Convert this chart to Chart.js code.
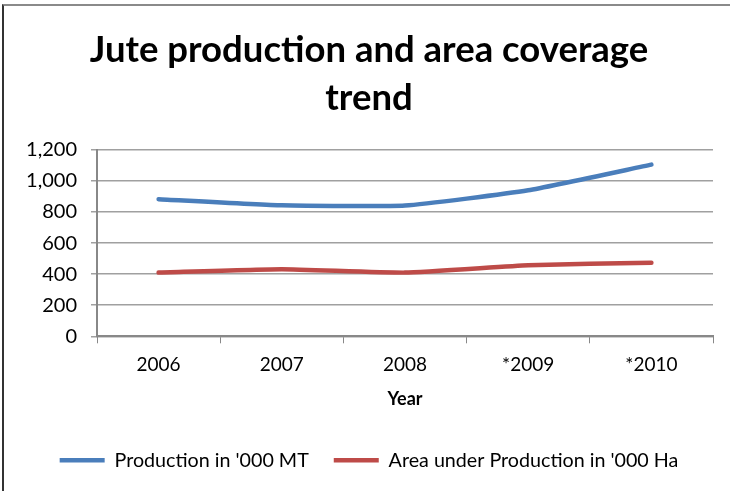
<!DOCTYPE html>
<html>
<head>
<meta charset="utf-8">
<script src="https://cdn.jsdelivr.net/npm/chart.js@4/dist/chart.umd.min.js"></script>
<style>
  body { margin: 0; background: #fff; }
  #wrap { position: relative; width: 730px; height: 491px; overflow: hidden; }
  #frame { position: absolute; left: 2px; top: 4px; width: 800px; height: 600px;
           border-top: 2px solid #8a8a8a; border-left: 2px solid #333; pointer-events: none; }
  canvas { position: absolute; left: 0; top: 0; }
</style>
</head>
<body>
<div id="wrap">
  <canvas id="jute" width="730" height="491"></canvas>
  <div id="frame"></div>
</div>
<script>
const years = ["2006", "2007", "2008", "*2009", "*2010"];
const production = [883, 843, 842, 940, 1105];
const area = [410, 432, 410, 457, 474];
const yTicks = [0, 200, 400, 600, 800, 1000, 1200];

Chart.defaults.font.family = "Lato";
Chart.defaults.color = "#000";

const config = {
  type: "line",
  data: {
    labels: years,
    datasets: [
      {
        label: "Production in '000 MT",
        data: production,
        borderColor: "#4a7ebb",
        backgroundColor: "#4a7ebb",
        borderWidth: 4.5,
        borderCapStyle: "round",
        pointRadius: 0,
        tension: 0.15,
      },
      {
        label: "Area under Production in '000 Ha",
        data: area,
        borderColor: "#be4b48",
        backgroundColor: "#be4b48",
        borderWidth: 4.5,
        borderCapStyle: "round",
        pointRadius: 0,
        tension: 0.15,
      },
    ],
  },
  options: {
    responsive: false,
    animation: false,
    // left padding nudges title and legend centre to the right; y labels still fit
    layout: { padding: { left: 25, right: 17, top: 0, bottom: 11 } },
    plugins: {
      title: {
        display: true,
        text: ["Jute production and area coverage", "trend"],
        font: { size: 36.5, weight: "bold", lineHeight: 1.3 },
        padding: { top: 27, bottom: 28 },
      },
      legend: {
        position: "bottom",
        labels: {
          usePointStyle: true,
          pointStyle: "line",
          pointStyleWidth: 45,
          boxHeight: 18,
          padding: 25,
          font: { size: 19.7 },
        },
      },
      tooltip: { enabled: false },
    },
    scales: {
      x: {
        offset: true,
        grid: { offset: true, drawOnChartArea: false, drawTicks: true, tickLength: 7, color: "#888" },
        border: { display: true, color: "#888", width: 2 },
        ticks: { font: { size: 19 }, padding: 10 },
        title: { display: true, text: "Year", font: { size: 18, weight: "bold" }, padding: { top: 0, bottom: 15 } },
        afterFit: (s) => { s.height = 89; },
      },
      y: {
        min: 0,
        max: 1200,
        afterBuildTicks: (s) => { s.ticks = yTicks.map((v) => ({ value: v })); },
        grid: { color: "#a0a0a0", lineWidth: 1.5, tickLength: 6 },
        border: { display: true, color: "#888", width: 2 },
        ticks: { font: { size: 20 }, padding: 14 },
        afterFit: (s) => { s.width = 72; },
      },
    },
  },
};

const juteChart = new Chart(document.getElementById("jute"), config);
</script>
</body>
</html>
